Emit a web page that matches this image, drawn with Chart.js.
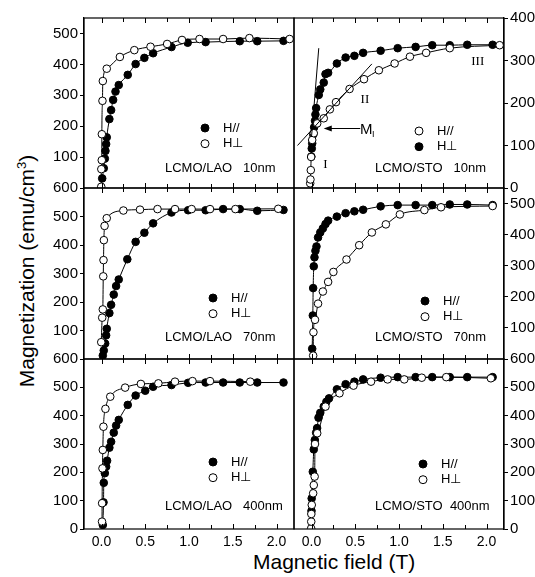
<!DOCTYPE html>
<html>
<head>
<meta charset="utf-8">
<script src="https://cdn.jsdelivr.net/npm/chart.js@4.4.1/dist/chart.umd.min.js"></script>
<style>
  body { margin: 0; background: #fff; }
  #wrap { position: relative; width: 535px; height: 577px; overflow: hidden; font-family: "Liberation Sans", Arial, sans-serif; color: #000; }
  #wrap canvas { position: absolute; left: 0; top: 0; }
  .ytitle { position: absolute; left: 24px; top: 271px; transform: translate(-50%, -50%) rotate(-90deg); font-size: 21px; line-height: 21px; white-space: nowrap; }
  .ytitle sup { font-size: 13px; }
  .xtitle { position: absolute; left: 253px; top: 551px; font-size: 21px; line-height: 21px; white-space: nowrap; }
</style>
</head>
<body>
<div id="wrap">
  <div class="ytitle">Magnetization (emu/cm<sup>3</sup>)</div>
  <div class="xtitle">Magnetic field (T)</div>
</div>
<script>
// axes
var fieldTicks = [0, 0.5, 1, 1.5, 2];
var fieldMinor = [0.25, 0.75, 1.25, 1.75];

var lao10Ticks = [100, 200, 300, 400, 500];
var lao70Ticks = [100, 200, 300, 400, 500, 600];
var lao400Ticks = [0, 100, 200, 300, 400, 500, 600];
var sto10Ticks = [0, 100, 200, 300, 400];
var sto70Ticks = [100, 200, 300, 400, 500];
var sto400Ticks = [0, 100, 200, 300, 400, 500, 600];

// LCMO/LAO 10nm
var lao10PerpT = [-0.003, -0.002, 0.003, 0.004, 0.011, 0.015, 0.06, 0.21, 0.375, 0.56, 0.75, 0.92, 1.12, 1.39, 1.69, 2.15];
var lao10PerpM = [4, 61, 90, 174, 282, 346, 386, 424, 446, 457, 466, 479, 482, 482, 485, 482];
var lao10ParT = [0.008, 0.026, 0.038, 0.045, 0.053, 0.06, 0.09, 0.11, 0.133, 0.16, 0.197, 0.30, 0.39, 0.49, 0.59, 0.80, 0.985, 1.19, 1.58, 1.78, 2.08];
var lao10ParM = [31, 64, 95, 120, 142, 164, 223, 252, 285, 312, 333, 366, 401, 421, 436, 456, 470, 472, 475, 475, 476];

// LCMO/STO 10nm
var sto10ParT = [-0.015, -0.012, -0.008, -0.004, 0.008, 0.026, 0.065, 0.14, 0.21, 0.28, 0.435, 0.60, 0.77, 0.95, 1.125, 1.31, 1.58, 2.15];
var sto10ParM = [11, 20, 42, 73, 113, 129, 152, 164, 185, 202, 233, 256, 277, 293, 309, 318, 329, 336];
var sto10PerpT = [-0.002, 0.003, 0.008, 0.02, 0.03, 0.04, 0.045, 0.053, 0.083, 0.10, 0.14, 0.16, 0.19, 0.29, 0.39, 0.49, 0.59, 0.79, 0.985, 1.19, 1.38, 1.58, 1.78, 2.07];
var sto10PerpM = [74, 93, 105, 126, 143, 158, 173, 188, 219, 232, 248, 268, 271, 293, 307, 311, 318, 323, 329, 332, 336, 336, 337, 337];

// LCMO/LAO 70nm
var lao70PerpT = [-0.003, 0.008, 0.015, 0.02, 0.023, 0.027, 0.035, 0.06, 0.25, 0.44, 0.64, 0.84, 1.03, 1.24, 1.53, 2.02];
var lao70PerpM = [59, 145, 174, 290, 347, 417, 467, 494, 521, 524, 526, 526, 526, 526, 526, 527];
var lao70ParT = [0.015, 0.026, 0.042, 0.053, 0.06, 0.09, 0.11, 0.14, 0.167, 0.197, 0.295, 0.39, 0.49, 0.59, 0.80, 0.99, 1.19, 1.39, 1.58, 1.78, 2.08];
var lao70ParM = [12, 30, 54, 83, 106, 161, 190, 226, 256, 279, 350, 411, 443, 476, 514, 522, 522, 526, 526, 520, 523];

// LCMO/STO 70nm
var sto70ParT = [0.008, 0.015, 0.019, 0.026, 0.034, 0.045, 0.057, 0.075, 0.10, 0.13, 0.16, 0.19, 0.29, 0.39, 0.49, 0.59, 0.79, 0.985, 1.19, 1.38, 1.58, 1.78, 2.07];
var sto70ParM = [33, 140, 228, 298, 327, 348, 362, 391, 407, 420, 434, 445, 458, 469, 475, 480, 491, 495, 495, 495, 497, 497, 495];
var sto70PerpT = [0.019, 0.022, 0.04, 0.075, 0.13, 0.19, 0.25, 0.40, 0.545, 0.69, 0.85, 1.01, 1.29, 1.48, 2.07];
var sto70PerpM = [11, 86, 126, 178, 217, 248, 280, 320, 366, 407, 433, 465, 479, 488, 492];

// LCMO/LAO 400nm
var lao400PerpT = [0.006, 0.007, 0.011, 0.015, 0.022, 0.045, 0.10, 0.27, 0.45, 0.65, 0.84, 1.04, 1.24, 1.70];
var lao400PerpM = [26, 91, 214, 279, 361, 424, 467, 499, 512, 514, 520, 522, 522, 520];
var lao400ParT = [0.015, 0.023, 0.026, 0.038, 0.053, 0.064, 0.09, 0.11, 0.14, 0.167, 0.197, 0.30, 0.39, 0.50, 0.59, 0.80, 0.99, 1.19, 1.39, 1.58, 1.78, 2.08];
var lao400ParM = [14, 94, 163, 197, 220, 241, 287, 308, 340, 365, 385, 438, 471, 488, 502, 508, 516, 517, 517, 517, 517, 517];

// LCMO/STO 400nm
var sto400ParT = [0.0, 0.002, 0.015, 0.026, 0.038, 0.053, 0.064, 0.08, 0.10, 0.14, 0.17, 0.20, 0.29, 0.39, 0.49, 0.59, 0.79, 0.985, 1.19, 1.38, 1.58, 1.78, 2.07];
var sto400ParM = [64, 108, 202, 281, 314, 340, 356, 393, 410, 432, 449, 461, 493, 511, 520, 528, 534, 536, 536, 536, 536, 536, 536];
var sto400PerpT = [-0.004, -0.003, -0.002, 0.003, 0.019, 0.026, 0.036, 0.04, 0.065, 0.16, 0.32, 0.48, 0.68, 0.87, 1.06, 1.26, 1.54, 2.05];
var sto400PerpM = [2, 26, 53, 85, 126, 155, 185, 300, 338, 432, 479, 506, 520, 528, 528, 534, 536, 532];

// page geometry
var W = 535, H = 577;
var colLeft = [84, 294], colRight = [294, 504];
var rowTop = [18, 188, 359], rowBottom = [188, 359, 529];
var yAxisW = [40, 31], xAxisH = 26;
var FONT = '"Liberation Sans", Arial, sans-serif';

var panels = [
  { row: 0, col: 0, yMax: 550, yTicks: lao10Ticks, label: 'LCMO/LAO   10nm',
    series: [[lao10PerpT, lao10PerpM, true], [lao10ParT, lao10ParM, false]],
    legend: { x: 121, y: 110, items: [[false, 'H//'], [true, 'H\u22A5']] }, labelY: 150 },
  { row: 0, col: 1, yMax: 400, yTicks: sto10Ticks, label: 'LCMO/STO   10nm',
    series: [[sto10ParT, sto10ParM, true], [sto10PerpT, sto10PerpM, false]],
    legend: { x: 125, y: 113, items: [[true, 'H//'], [false, 'H\u22A5']] }, labelY: 150, notes: true },
  { row: 1, col: 0, yMax: 600, yTicks: lao70Ticks, label: 'LCMO/LAO   70nm',
    series: [[lao70PerpT, lao70PerpM, true], [lao70ParT, lao70ParM, false]],
    legend: { x: 129, y: 110, items: [[false, 'H//'], [true, 'H\u22A5']] }, labelY: 149 },
  { row: 1, col: 1, yMax: 550, yTicks: sto70Ticks, label: 'LCMO/STO   70nm',
    series: [[sto70PerpT, sto70PerpM, true], [sto70ParT, sto70ParM, false]],
    legend: { x: 131, y: 113, items: [[false, 'H//'], [true, 'H\u22A5']] }, labelY: 149 },
  { row: 2, col: 0, yMax: 600, yTicks: lao400Ticks, label: 'LCMO/LAO   400nm',
    series: [[lao400PerpT, lao400PerpM, true], [lao400ParT, lao400ParM, false]],
    legend: { x: 129, y: 103, items: [[false, 'H//'], [true, 'H\u22A5']] }, labelY: 147 },
  { row: 2, col: 1, yMax: 600, yTicks: sto400Ticks, label: 'LCMO/STO  400nm',
    series: [[sto400PerpT, sto400PerpM, true], [sto400ParT, sto400ParM, false]],
    legend: { x: 129, y: 105, items: [[false, 'H//'], [true, 'H\u22A5']] }, labelY: 147 }
];

// frame, inside ticks, legend and the notes of the STO 10nm panel
var panelDecor = {
  id: 'panelDecor',
  afterDraw: function(chart, args, o) {
    var ctx = chart.ctx, a = chart.chartArea, xs = chart.scales.x, ys = chart.scales.y;
    ctx.save();
    ctx.strokeStyle = '#000';
    ctx.fillStyle = '#000';
    ctx.lineWidth = 1.2;
    ctx.strokeRect(a.left, a.top, a.right - a.left, a.bottom - a.top);

    ctx.lineWidth = 1;
    ctx.beginPath();
    fieldTicks.concat(fieldMinor).forEach(function(v) {
      var px = Math.round(xs.getPixelForValue(v)) + 0.5;
      var len = fieldTicks.indexOf(v) >= 0 ? 5 : 4;
      ctx.moveTo(px, a.bottom); ctx.lineTo(px, a.bottom - len);
      ctx.moveTo(px, a.top); ctx.lineTo(px, a.top + len);
    });
    ctx.stroke();

    ctx.font = '13px ' + FONT;
    ctx.textBaseline = 'middle';
    o.legend.items.forEach(function(it, i) {
      var cx = a.left + o.legend.x, cy = a.top + o.legend.y + i * 15.7;
      ctx.beginPath();
      ctx.arc(cx, cy, 4, 0, Math.PI * 2);
      ctx.fillStyle = it[0] ? '#fff' : '#000';
      ctx.fill();
      ctx.stroke();
      ctx.fillStyle = '#000';
      ctx.fillText(it[1], cx + 18, cy);
    });
    ctx.fillText(o.label, a.left + 81, a.top + o.labelY);

    if (o.notes) {
      var P = function(t, m) { return [xs.getPixelForValue(t), ys.getPixelForValue(m)]; };
      ctx.beginPath();
      var p1 = P(0.0, 120), p2 = P(0.083, 329);
      ctx.moveTo(p1[0], p1[1]); ctx.lineTo(p2[0], p2[1]);
      p1 = P(-0.16, 100); p2 = P(0.69, 292);
      ctx.moveTo(p1[0], p1[1]); ctx.lineTo(p2[0], p2[1]);
      // arrow to the kink
      p1 = P(0.557, 140); p2 = P(0.14, 140);
      ctx.moveTo(p1[0], p1[1]); ctx.lineTo(p2[0] + 6, p2[1]);
      ctx.stroke();
      ctx.beginPath();
      ctx.moveTo(p2[0], p2[1]);
      ctx.lineTo(p2[0] + 8, p2[1] - 3);
      ctx.lineTo(p2[0] + 8, p2[1] + 3);
      ctx.closePath();
      ctx.fill();

      var m = P(0.625, 140);
      ctx.textAlign = 'center';
      ctx.font = '15px ' + FONT;
      ctx.fillText('M', m[0], m[1] + 1);
      ctx.font = '9px ' + FONT;
      ctx.fillText('I', m[0] + 7, m[1] + 6);
      ctx.font = '13px "Liberation Serif", "Times New Roman", serif';
      [['I', 0.16, 54], ['II', 0.61, 207], ['III', 1.90, 297]].forEach(function(n) {
        var q = P(n[1], n[2]);
        ctx.fillText(n[0], q[0], q[1]);
      });
    }
    ctx.restore();
  }
};

function toPoints(ts, ms) {
  return ts.map(function(t, i) { return { x: t, y: ms[i] }; });
}

var wrap = document.getElementById('wrap');

panels.forEach(function(p) {
  var cv = document.createElement('canvas');
  cv.width = W;
  cv.height = H;
  wrap.appendChild(cv);

  var bottomRow = p.row === 2;
  var pad = {
    top: rowTop[p.row],
    bottom: bottomRow ? H - rowBottom[p.row] - xAxisH : H - rowBottom[p.row],
    left: p.col === 0 ? colLeft[0] - yAxisW[0] : colLeft[1],
    right: p.col === 0 ? W - colRight[0] : W - colRight[1] - yAxisW[1]
  };

  var datasets = p.series.map(function(s) {
    return {
      data: toPoints(s[0], s[1]),
      showLine: true,
      borderColor: '#000',
      borderWidth: 1,
      cubicInterpolationMode: 'monotone',
      pointRadius: 3.8,
      pointBorderWidth: 1,
      pointBorderColor: '#000',
      pointBackgroundColor: s[2] ? '#fff' : '#000'
    };
  });

  new Chart(cv, {
    type: 'scatter',
    data: { datasets: datasets },
    options: {
      responsive: false,
      animation: false,
      events: [],
      layout: { padding: pad },
      plugins: {
        legend: { display: false },
        tooltip: { enabled: false },
        panelDecor: { legend: p.legend, label: p.label, labelY: p.labelY, notes: !!p.notes }
      },
      scales: {
        x: {
          type: 'linear',
          min: -0.2,
          max: 2.2,
          display: bottomRow,
          afterBuildTicks: function(s) { s.ticks = fieldTicks.map(function(v) { return { value: v }; }); },
          afterFit: function(s) { s.height = bottomRow ? xAxisH : 0; },
          grid: { display: false, drawTicks: false },
          border: { display: false },
          ticks: {
            padding: 5,
            color: '#000',
            font: { family: FONT, size: 14 },
            maxRotation: 0,
            callback: function(v) { return v.toFixed(1); }
          }
        },
        y: {
          type: 'linear',
          position: p.col === 0 ? 'left' : 'right',
          min: 0,
          max: p.yMax,
          afterBuildTicks: function(s) { s.ticks = p.yTicks.map(function(v) { return { value: v }; }); },
          afterFit: function(s) { s.width = yAxisW[p.col]; },
          grid: { drawOnChartArea: false, drawTicks: true, tickLength: 4, color: '#000', lineWidth: 1 },
          border: { display: true, color: '#000', width: 1.2 },
          ticks: {
            padding: 2,
            color: '#000',
            font: { family: FONT, size: 15 },
            callback: function(v) { return String(v); }
          }
        }
      }
    },
    plugins: [panelDecor]
  });
});
</script>
</body>
</html>
